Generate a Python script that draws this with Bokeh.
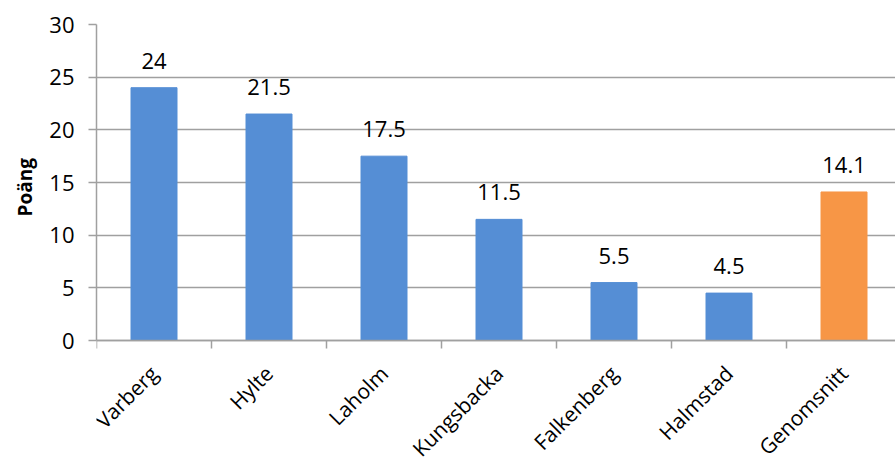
import math
from bokeh.plotting import figure
from bokeh.models import Range1d, FixedTicker, ColumnDataSource, LabelSet, Title
from bokeh.core.properties import value
from bokeh.embed import file_html
from bokeh.resources import INLINE

categories = ["Varberg", "Hylte", "Laholm", "Kungsbacka", "Falkenberg", "Halmstad", "Genomsnitt"]
values = [24, 21.5, 17.5, 11.5, 5.5, 4.5, 14.1]
value_labels = ["24", "21.5", "17.5", "11.5", "5.5", "4.5", "14.1"]
colors = ["#558ED5", "#558ED5", "#558ED5", "#558ED5", "#558ED5", "#558ED5", "#F79646"]
y_ticks = [0, 5, 10, 15, 20, 25, 30]
y_max = 30
y_title = "Poäng"

FONT = "Open Sans"
GRID = "#A0A0A0"

# layout (pixels): plot area 316px tall for 0..30, 124px below the zero line for labels
PLOT_H, BELOW_H = 316, 124
TITLE_LEN = 68  # approx. rendered length of the y title in px
xs = [i + 0.5 for i in range(len(categories))]
src = ColumnDataSource(dict(x=xs, top=values, color=colors, label=value_labels))

p = figure(width=895, height=464, output_backend="svg", toolbar_location=None,
           x_range=Range1d(0, 799 / 115), y_range=Range1d(-y_max * BELOW_H / PLOT_H, y_max),
           min_border_left=96, min_border_right=0, min_border_top=24, min_border_bottom=0)
p.outline_line_color = None
p.background_fill_color = "white"
p.border_fill_color = "white"

p.vbar(x="x", top="top", width=0.4, bottom=0, color="color", source=src)

labels = LabelSet(x="x", y="top", text="label", source=src, text_align="center",
                  text_baseline="alphabetic", y_offset=19, text_font=value(FONT),
                  text_font_size="22px", text_color="#000000")
p.add_layout(labels)

# y axis title, centred on the 0..30 part of the axis
p.add_layout(Title(text=y_title, align="left", offset=BELOW_H + (PLOT_H - TITLE_LEN) / 2,
                   text_font=FONT, text_font_size="19px", text_font_style="bold",
                   text_color="#000000", standoff=18), "left")

# y axis
p.yaxis.ticker = FixedTicker(ticks=y_ticks)
p.yaxis.bounds = (0, y_max)
p.yaxis.axis_line_color = GRID
p.yaxis.axis_line_width = 1.5
p.yaxis.major_tick_line_color = GRID
p.yaxis.major_tick_line_width = 1.5
p.yaxis.major_tick_out = 8
p.yaxis.major_tick_in = 0
p.yaxis.minor_tick_line_color = None
p.yaxis.major_label_text_font = FONT
p.yaxis.major_label_text_font_size = "22px"
p.yaxis.major_label_text_color = "#000000"
p.yaxis.major_label_standoff = 14

p.ygrid.ticker = FixedTicker(ticks=y_ticks)
p.ygrid.grid_line_color = GRID
p.ygrid.grid_line_width = 1.5
p.xgrid.grid_line_color = None

# x axis at y=0: labels at centers, tick marks at category boundaries
p.xaxis.fixed_location = 0
p.xaxis.ticker = FixedTicker(ticks=xs, minor_ticks=list(range(len(categories) + 1)))
p.xaxis.major_label_overrides = {x: c for x, c in zip(xs, categories)}
p.xaxis.major_label_orientation = math.pi / 4
p.xaxis.major_tick_line_color = None
p.xaxis.minor_tick_line_color = GRID
p.xaxis.minor_tick_line_width = 1.5
p.xaxis.minor_tick_out = 8
p.xaxis.minor_tick_in = 0
p.xaxis.axis_line_color = GRID
p.xaxis.axis_line_width = 1.5
p.xaxis.major_label_text_font = FONT
p.xaxis.major_label_text_font_size = "21px"
p.xaxis.major_label_text_color = "#000000"
p.xaxis.major_label_standoff = 21

open("out.html", "w").write(file_html(p, INLINE))
